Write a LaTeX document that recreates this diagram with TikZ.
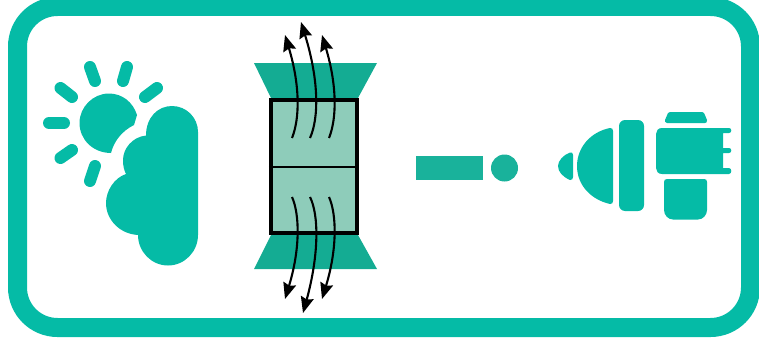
\documentclass[tikz,border=0pt]{standalone}
\usetikzlibrary{arrows.meta}
\definecolor{teal1}{HTML}{05BBA6}
\definecolor{teal2}{HTML}{14AC93}
\definecolor{teal3}{HTML}{19B29B}
\definecolor{pale}{HTML}{8ECCBA}
\tikzset{
 frame/.style={draw=teal1,line width=19pt,rounded corners=40pt},
 ray/.style={draw=teal1,line width=12pt,line cap=round},
 solid1/.style={fill=teal1,draw=none},
 flow/.style={draw=black,line width=2.1pt,-{Stealth[inset=2pt,length=16pt,width=13pt]}},
}
\begin{document}
\begin{tikzpicture}[x=1pt,y=-1pt]
\useasboundingbox (0,0) rectangle (759,345);
\begin{scope}
\clip (0,0) rectangle (759,345);
\draw[frame] (17.5,6.5) rectangle (750.5,327.5);
\end{scope}
% sun rays
\foreach \a/\b/\c/\d in {49/123/64/123, 60.5/88/72/97, 90/67/95/81, 127/67/123/81, 157/88/145/97, 60.5/158/72/150, 95/166/90/181}{
 \draw[ray] (\a,\b) -- (\c,\d);}
% sun
\fill[solid1] (137,115) .. controls (133,102) and (122,93.5) .. (109,93.5)
 .. controls (93,93.5) and (79.5,107) .. (79.5,123)
 .. controls (79.5,139.5) and (93,153) .. (111,153)
 .. controls (114,141) and (122,131) .. (134,125) -- cycle;
% cloud
\fill[solid1] (198,132) .. controls (198,117.6) and (186.4,106) .. (172,106)
 .. controls (157.6,106) and (146,117.6) .. (146,135.5)
 .. controls (132,137) and (123,149) .. (123,160)
 .. controls (123,166) and (124,170) .. (126,174)
 .. controls (114,178) and (106,191) .. (106,203)
 .. controls (106,220) and (120,234) .. (138,235)
 .. controls (138,251.6) and (151.4,265.5) .. (168,265.5)
 .. controls (184.6,265.5) and (198,251.6) .. (198,235) -- cycle;
% tunnel
\fill[fill=teal2] (254,63) -- (377,63) -- (358,98) -- (271,98) -- cycle;
\fill[fill=teal2] (271,235) -- (358,235) -- (377,269) -- (254,269) -- cycle;
\node[draw=black,line width=4.4pt,fill=pale,minimum width=86pt,minimum height=133pt,inner sep=0pt,anchor=center] (box) at (314,166.5) {};
\draw[black,line width=2pt] (box.west) -- (box.east);
% arrows
\draw[flow] (292,138) .. controls (300,118) and (300,85) .. (285,35);
\draw[flow] (310,138) .. controls (319,118) and (319,80) .. (301,22);
\draw[flow] (329,138) .. controls (337,118) and (337,85) .. (322,35);
\draw[flow] (292,197) .. controls (300,215) and (300,250) .. (285,299);
\draw[flow] (310,197) .. controls (319,215) and (319,255) .. (303,313);
\draw[flow] (329,197) .. controls (337,215) and (337,250) .. (322,299);
% middle
\fill[teal3] (416,156) rectangle (483,180);
\fill[teal3] (504.5,168) circle[radius=13.5];
% right icon
\fill[solid1] (570,152.5) .. controls (563,155) and (558,161) .. (558,166)
 .. controls (558,172) and (563,177) .. (570,180)
 .. controls (572,180) and (573,179) .. (573,177)
 -- (573,155) .. controls (573,153) and (572,152) .. (570,152.5) -- cycle;
\fill[solid1] (610,128) .. controls (590,132) and (577,148) .. (577,166)
 .. controls (577,186) and (592,200) .. (610,204)
 .. controls (612,204) and (613,203) .. (613,201) -- (613,131)
 .. controls (613,129) and (612,128) .. (610,128) -- cycle;
\fill[solid1,rounded corners=6pt] (619,120) rectangle (644,211);
\fill[solid1] (667,123) .. controls (665,123) and (665,121) .. (665,120) -- (668,113) .. controls (668.5,112) and (669,112) .. (670,112) -- (702,112)
 .. controls (703,112) and (704,113) .. (704.5,114) -- (707,120) .. controls (707.5,122) and (706,123) .. (705,123) -- cycle;
\fill[solid1] (667,179) -- (704,179) .. controls (706,179) and (707,180) .. (707,182) -- (707,210) .. controls (707,215) and (703,219.5) .. (698,219.5) -- (673,219.5)
 .. controls (668,219.5) and (664,215) .. (664,210) -- (664,182) .. controls (664,180) and (665,179) .. (667,179) -- cycle;
\fill[solid1] (662,128) -- (729,128) .. controls (732,128) and (732,133) .. (729,133)
 -- (723,133) -- (723,148) -- (729,148) .. controls (732,148) and (732,153) .. (729,153)
 -- (723,153) -- (723,168) -- (729,168) .. controls (732,168) and (732,174) .. (729,174)
 -- (662,174) .. controls (658,174) and (656,171) .. (656,168) -- (656,134)
 .. controls (656,131) and (658,128) .. (662,128) -- cycle;
\end{tikzpicture}
\end{document}
